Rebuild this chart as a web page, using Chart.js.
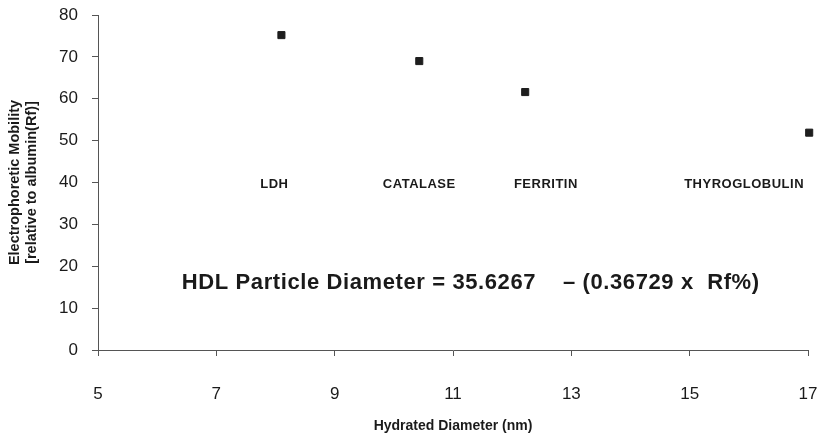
<!DOCTYPE html>
<html>
<head>
<meta charset="utf-8">
<script src="https://cdn.jsdelivr.net/npm/chart.js@4"></script>
<style>
html,body{margin:0;padding:0;background:#fff;}
#wrap{width:822px;height:435px;position:relative;}
</style>
</head>
<body>
<div id="wrap"><canvas id="c" width="822" height="435"></canvas></div>
<script>
// Data
const proteins = ['LDH', 'CATALASE', 'FERRITIN', 'THYROGLOBULIN', 'THYROGLOBULIN'];
const diameters = [8.1, 10.43, 12.22, 17.02, 17.02];
const mobility = [75.2, 69.0, 61.6, 51.9, 51.0];
const labelNames = ['LDH', 'CATALASE', 'FERRITIN', 'THYROGLOBULIN'];
const labelX = [7.98, 10.43, 12.57, 15.92];
const labelY = [39.6, 39.6, 39.6, 39.6];
const equationText = 'HDL Particle Diameter = 35.6267    \u2013 (0.36729 x  Rf%)';
const equationPos = [11.3, 16.1];
const xTicks = [5, 7, 9, 11, 13, 15, 17];
const yTicks = [0, 10, 20, 30, 40, 50, 60, 70, 80];

const points = diameters.map((d, i) => ({x: d, y: mobility[i]}));

const annot = {
  id: 'annot',
  afterDatasetsDraw(chart) {
    const ctx = chart.ctx, xs = chart.scales.x, ys = chart.scales.y;
    ctx.save();
    ctx.fillStyle = '#1a1a1a';
    ctx.textAlign = 'center';
    ctx.textBaseline = 'middle';
    ctx.font = 'bold 13px "Liberation Sans", Arial, sans-serif';
    ctx.letterSpacing = '0.5px';
    labelNames.forEach((n, i) => {
      ctx.fillText(n, xs.getPixelForValue(labelX[i]), ys.getPixelForValue(labelY[i]));
    });
    ctx.font = 'bold 22px "Liberation Sans", Arial, sans-serif';
    ctx.letterSpacing = '0.6px';
    ctx.fillText(equationText, xs.getPixelForValue(equationPos[0]), ys.getPixelForValue(equationPos[1]));
    ctx.restore();
  }
};

const fontFam = '"Liberation Sans", Arial, sans-serif';

new Chart(document.getElementById('c'), {
  type: 'scatter',
  data: {
    datasets: [{
      data: points,
      pointStyle: 'rect',
      pointRadius: 5,
      pointHoverRadius: 5,
      backgroundColor: '#1e1e1e',
      borderColor: '#1e1e1e',
      borderWidth: 1
    }]
  },
  options: {
    responsive: false,
    animation: false,
    events: [],
    clip: false,
    layout: {padding: {left: 0, right: 14, top: 15, bottom: 0}},
    plugins: {legend: {display: false}, tooltip: {enabled: false}},
    scales: {
      x: {
        type: 'linear', min: 5, max: 17,
        afterBuildTicks(s) { s.ticks = xTicks.map(v => ({value: v})); },
        afterFit(s) { s.height = 85; s.paddingLeft = 0; s.paddingRight = 0; },
        border: {color: '#555', width: 1},
        grid: {drawOnChartArea: false, drawTicks: true, tickLength: 6, color: '#555'},
        ticks: {color: '#1a1a1a', padding: 28, maxRotation: 0, autoSkip: false,
          font: {family: fontFam, size: 17}},
        title: {display: true, text: 'Hydrated Diameter (nm)', color: '#1a1a1a',
          font: {family: fontFam, size: 14, weight: 'bold'},
          padding: {top: 10, bottom: 0}}
      },
      y: {
        type: 'linear', min: 0, max: 80,
        afterBuildTicks(s) { s.ticks = yTicks.map(v => ({value: v})); },
        afterFit(s) { s.width = 98; s.paddingTop = 0; s.paddingBottom = 0; },
        border: {color: '#555', width: 1},
        grid: {drawOnChartArea: false, drawTicks: true, tickLength: 6, color: '#555'},
        ticks: {color: '#1a1a1a', padding: 14, autoSkip: false,
          font: {family: fontFam, size: 17}},
        title: {display: true, text: ['Electrophoretic Mobility', '[relative to albumin(Rf)]'], color: '#1a1a1a',
          font: {family: fontFam, size: 14.5, weight: 'bold', lineHeight: 1.15},
          padding: {top: 7, bottom: 0}}
      }
    }
  },
  plugins: [annot]
});
</script>
</body>
</html>
